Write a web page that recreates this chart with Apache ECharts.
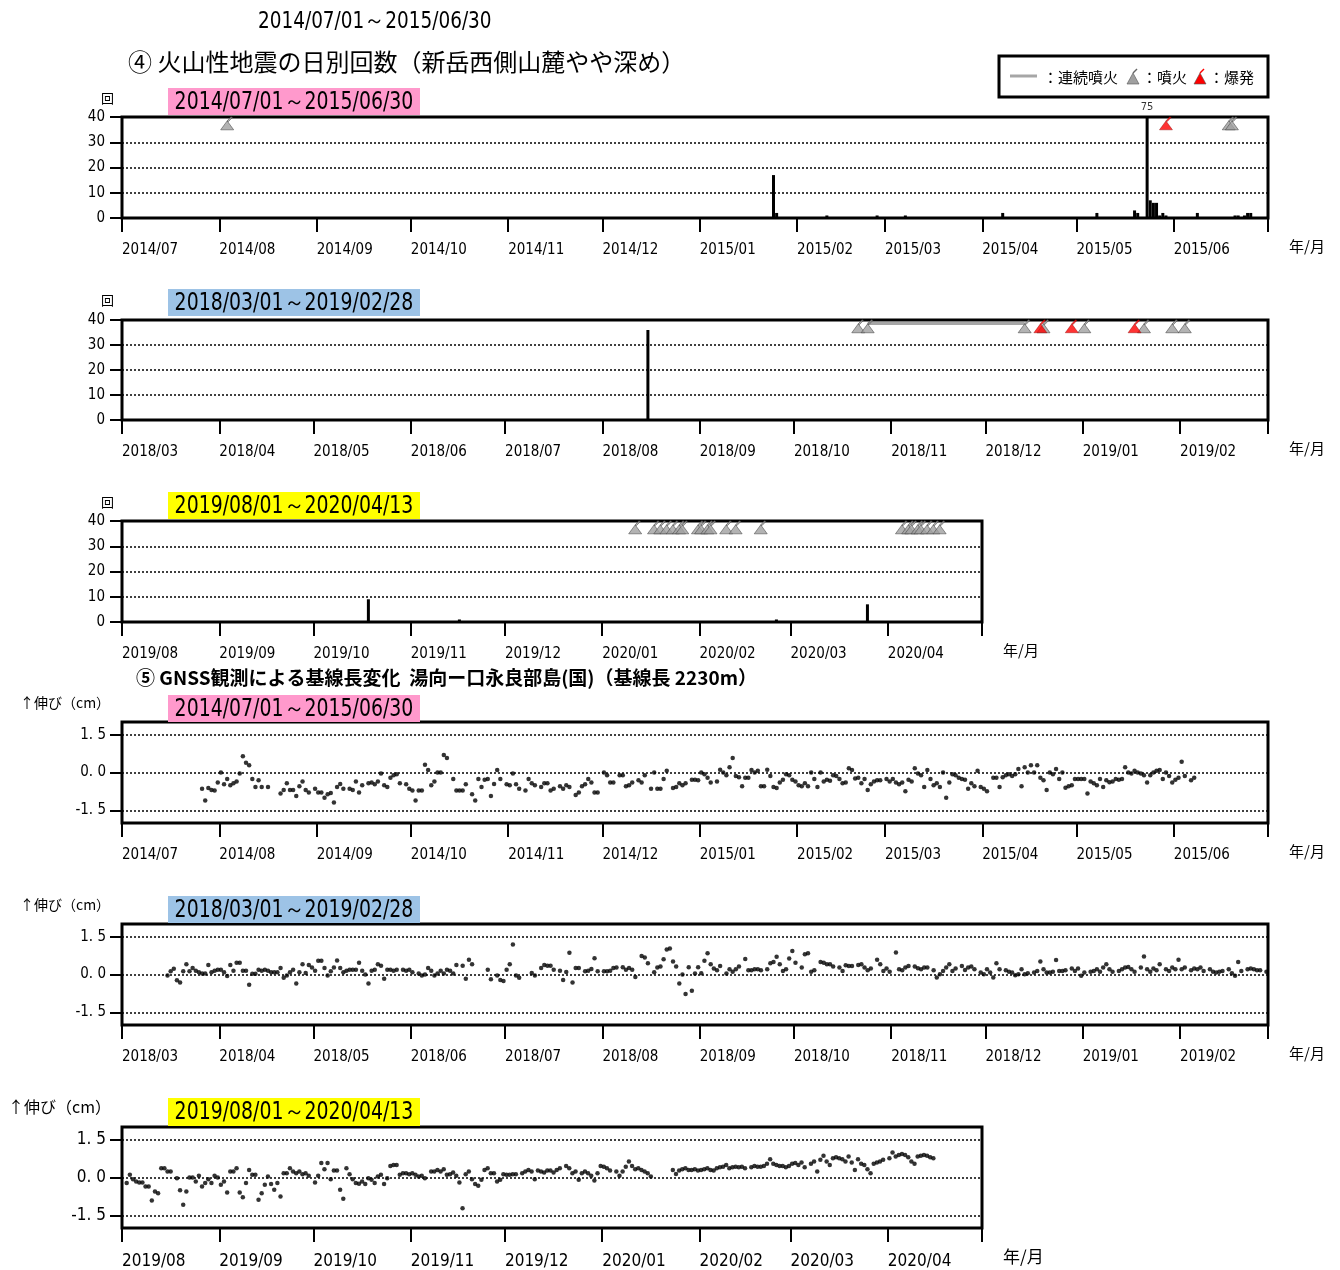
<!DOCTYPE html>
<html><head><meta charset="utf-8">
<script src="https://cdn.jsdelivr.net/npm/echarts@6/dist/echarts.min.js"></script>
<style>html,body{margin:0;padding:0;background:#fff}#c{width:1340px;height:1270px}</style>
</head><body><div id="c"></div>
<script>
// ---------------- DATA ----------------
const monthsA = ['2014/07','2014/08','2014/09','2014/10','2014/11','2014/12','2015/01','2015/02','2015/03','2015/04','2015/05','2015/06','2015/07'];
const monthsB = ['2018/03','2018/04','2018/05','2018/06','2018/07','2018/08','2018/09','2018/10','2018/11','2018/12','2019/01','2019/02','2019/03'];
const monthsC = ['2019/08','2019/09','2019/10','2019/11','2019/12','2020/01','2020/02','2020/03','2020/04','2020/05'];

// daily counts of volcanic earthquakes
const eqADates = ['2015-01-24','2015-01-25','2015-02-10','2015-02-26','2015-03-07','2015-04-07','2015-05-07','2015-05-19','2015-05-20','2015-05-23','2015-05-24','2015-05-25','2015-05-26','2015-05-27','2015-05-28','2015-05-29','2015-06-08','2015-06-20','2015-06-21','2015-06-23','2015-06-24','2015-06-25'];
const eqACounts = [17,2,1,1,1,2,2,3,2,75,7,6,6,1,2,1,2,1,1,1,2,2];
const eqBDates = ['2018-08-15'];
const eqBCounts = [36];
const eqCDates = ['2019-10-18','2019-11-16','2020-02-25','2020-03-25'];
const eqCCounts = [9,1,1,7];

// eruptions (gray), explosions (red), continuous eruption periods
const erA = ['2014-08-03','2015-06-18','2015-06-19'];
const exA = ['2015-05-29'];
const erB = ['2018-10-21','2018-10-24','2018-12-13','2018-12-19','2019-01-01','2019-01-20','2019-01-29','2019-02-02'];
const exB = ['2018-12-18','2018-12-28','2019-01-17'];
const contB = [['2018-10-24','2018-12-13']];
const erC = ['2020-01-11','2020-01-17','2020-01-19','2020-01-21','2020-01-23','2020-01-25','2020-01-26','2020-01-31','2020-02-01','2020-02-03','2020-02-04','2020-02-09','2020-02-12','2020-02-20','2020-04-05','2020-04-07','2020-04-08','2020-04-10','2020-04-11','2020-04-13','2020-04-15','2020-04-17'];

// GNSS baseline change: [day offset from period start, cm]
const gnssA = [[25,-0.64],[26,-1.11],[27,-0.61],[28,-0.69],[29,-0.71],[30,-0.40],[31,0.00],[32,-0.47],[33,-0.26],[34,-0.50],[35,-0.43],[36,-0.36],[37,-0.04],[38,0.64],[39,0.39],[40,0.29],[41,-0.26],[42,-0.57],[43,-0.31],[44,-0.57],[46,-0.57],[50,-0.83],[51,-0.69],[52,-0.43],[53,-0.69],[54,-0.69],[55,-0.93],[56,-0.54],[57,-0.36],[58,-0.69],[59,-0.79],[61,-0.64],[62,-0.79],[63,-0.79],[64,-1.00],[65,-0.86],[66,-0.81],[67,-1.19],[68,-0.57],[69,-0.46],[70,-0.64],[72,-0.64],[73,-0.69],[74,-0.36],[75,-0.79],[76,-0.50],[78,-0.43],[79,-0.40],[80,-0.47],[81,-0.36],[82,-0.04],[83,-0.50],[84,-0.57],[85,-0.21],[86,-0.11],[87,-0.07],[88,-0.43],[90,-0.47],[91,-0.64],[92,-0.71],[93,-1.11],[94,-0.71],[95,-0.71],[96,0.31],[97,0.10],[98,-0.50],[99,-0.36],[100,0.00],[101,0.00],[102,0.69],[103,0.57],[105,-0.26],[106,-0.71],[107,-0.71],[108,-0.71],[109,-0.47],[111,-0.86],[112,-1.11],[113,-0.26],[114,-0.57],[115,-0.29],[116,-0.26],[117,-0.93],[118,-0.46],[119,0.10],[120,-0.26],[122,-0.47],[123,-0.50],[124,-0.04],[125,-0.47],[126,-0.64],[128,-0.71],[129,-0.26],[130,-0.43],[131,-0.50],[133,-0.57],[134,-0.43],[135,-0.43],[136,-0.71],[137,-0.64],[139,-0.54],[140,-0.64],[141,-0.50],[142,-0.57],[144,-0.89],[145,-0.79],[146,-0.54],[147,-0.47],[148,-0.26],[149,-0.40],[150,-0.79],[151,-0.79],[153,0.00],[154,-0.11],[155,-0.40],[156,-0.40],[158,-0.11],[159,-0.11],[160,-0.54],[161,-0.50],[162,-0.40],[164,-0.31],[165,-0.40],[166,-0.11],[168,-0.64],[169,0.00],[170,-0.64],[171,-0.64],[172,-0.26],[173,0.07],[175,-0.61],[176,-0.57],[177,-0.43],[178,-0.50],[179,-0.43],[181,-0.29],[182,-0.29],[183,-0.31],[184,0.00],[185,-0.07],[186,-0.21],[187,-0.40],[189,-0.36],[190,0.11],[191,0.00],[192,-0.11],[193,0.21],[194,0.57],[195,-0.14],[196,-0.19],[197,-0.54],[198,-0.21],[199,-0.21],[200,0.10],[201,0.00],[202,0.07],[203,-0.54],[204,-0.54],[205,0.11],[206,-0.14],[207,-0.57],[208,-0.61],[209,-0.40],[210,-0.29],[211,-0.07],[212,-0.11],[213,-0.29],[214,-0.36],[215,-0.50],[216,-0.54],[217,-0.43],[218,-0.54],[219,0.00],[220,-0.26],[221,-0.57],[222,0.00],[223,-0.36],[224,-0.29],[225,-0.33],[226,-0.11],[227,-0.14],[228,-0.26],[229,-0.43],[230,-0.40],[231,0.17],[232,0.10],[233,-0.24],[234,-0.21],[235,-0.43],[236,-0.26],[237,-0.69],[238,-0.47],[239,-0.36],[240,-0.31],[241,-0.31],[243,-0.26],[244,-0.36],[245,-0.26],[246,-0.40],[247,-0.47],[248,-0.40],[249,-0.74],[250,-0.29],[251,-0.36],[252,0.17],[253,-0.04],[254,-0.11],[255,-0.57],[256,0.10],[257,-0.26],[258,-0.50],[259,-0.43],[260,-0.57],[261,0.00],[262,-1.00],[263,-0.40],[264,-0.07],[265,-0.11],[266,-0.21],[267,-0.26],[268,-0.29],[269,-0.64],[270,-0.43],[271,-0.54],[272,0.07],[273,-0.57],[274,-0.64],[275,-0.74],[277,-0.21],[278,-0.21],[279,-0.57],[280,-0.19],[281,-0.11],[282,-0.07],[283,-0.14],[284,-0.07],[285,0.14],[286,-0.54],[287,0.21],[288,0.00],[289,0.29],[290,0.00],[291,0.29],[292,-0.21],[293,-0.31],[294,-0.69],[295,0.00],[296,-0.07],[297,0.14],[298,-0.26],[299,0.00],[300,-0.60],[301,-0.54],[302,-0.50],[303,-0.26],[304,-0.26],[305,-0.26],[306,-0.26],[307,-0.83],[308,-0.36],[309,-0.43],[310,-0.50],[311,-0.26],[312,-0.57],[313,-0.31],[314,-0.39],[315,-0.36],[316,-0.26],[317,-0.29],[318,-0.26],[319,0.21],[320,0.00],[321,-0.04],[322,0.07],[323,0.00],[324,-0.04],[325,-0.11],[326,-0.40],[327,-0.11],[328,0.00],[329,0.07],[330,0.10],[331,-0.26],[332,0.00],[333,-0.14],[334,-0.40],[335,-0.29],[336,-0.21],[337,0.43],[338,-0.14],[340,-0.31],[341,-0.21]];

const gnssB = [[14,-0.04],[15,0.13],[16,0.23],[17,-0.23],[18,-0.32],[19,0.13],[20,0.41],[21,0.13],[22,0.26],[23,0.15],[24,0.09],[25,0.04],[26,0.04],[27,0.38],[28,0.09],[29,0.15],[30,0.19],[31,0.19],[32,0.09],[33,-0.06],[34,0.38],[35,0.15],[36,0.47],[37,0.47],[38,0.15],[39,0.15],[40,-0.41],[41,0.03],[42,0.03],[43,0.19],[44,0.15],[45,0.19],[46,0.15],[47,0.09],[48,0.09],[49,0.09],[50,0.26],[51,-0.13],[52,-0.04],[53,0.09],[54,0.19],[55,-0.36],[56,0.09],[57,0.41],[58,0.06],[59,0.38],[60,0.28],[61,0.15],[62,0.54],[63,0.54],[64,0.26],[65,-0.04],[66,0.13],[67,0.28],[68,0.55],[69,0.26],[70,0.09],[71,0.15],[72,0.19],[73,0.19],[74,0.19],[75,0.47],[76,0.15],[77,0.00],[78,-0.36],[79,0.15],[80,0.19],[81,0.41],[82,0.35],[83,-0.17],[84,0.19],[85,0.19],[86,0.15],[87,0.19],[89,0.19],[90,0.15],[91,0.19],[92,0.09],[94,0.04],[95,-0.04],[96,0.00],[97,0.26],[98,0.15],[99,-0.04],[100,0.04],[101,0.15],[102,0.04],[103,0.19],[104,0.15],[105,0.04],[106,0.38],[108,0.35],[109,-0.17],[110,0.58],[111,0.41],[116,0.19],[117,-0.19],[119,-0.04],[120,-0.22],[121,-0.26],[122,0.19],[123,0.41],[124,1.19],[125,-0.04],[126,-0.13],[130,0.06],[131,-0.04],[133,0.26],[134,0.38],[135,0.35],[136,0.35],[137,0.19],[139,0.15],[140,-0.22],[141,0.10],[142,0.86],[143,-0.32],[144,0.26],[145,0.26],[147,0.13],[148,0.15],[149,0.22],[150,0.64],[151,0.13],[153,0.13],[154,0.13],[155,0.15],[156,0.26],[157,0.28],[159,0.29],[160,0.19],[161,0.26],[162,0.19],[163,-0.10],[165,0.73],[166,0.67],[167,0.45],[169,0.09],[170,0.28],[171,0.32],[172,0.60],[173,0.99],[174,1.03],[175,0.51],[176,0.32],[177,-0.36],[178,0.00],[179,-0.77],[180,0.29],[181,-0.64],[182,0.04],[183,0.29],[184,0.05],[185,0.54],[186,0.84],[187,0.41],[188,0.24],[189,0.17],[190,0.34],[192,0.04],[193,0.21],[194,0.11],[195,0.21],[196,0.32],[198,0.61],[199,0.17],[200,0.17],[201,0.21],[202,0.21],[203,0.17],[205,0.21],[206,0.45],[207,0.50],[208,0.70],[209,0.41],[210,0.14],[211,0.21],[212,0.63],[213,0.93],[214,0.47],[216,0.28],[217,0.80],[218,0.84],[219,0.11],[220,0.17],[222,0.50],[223,0.47],[224,0.41],[225,0.41],[226,0.32],[228,0.28],[229,0.14],[230,0.37],[231,0.34],[232,0.34],[234,0.38],[235,0.41],[236,0.28],[237,0.17],[238,0.24],[240,0.58],[241,0.41],[242,0.14],[243,0.24],[244,0.11],[246,0.87],[247,0.21],[248,0.17],[249,0.28],[250,0.34],[252,0.32],[253,0.25],[254,0.21],[255,0.28],[256,0.28],[258,0.17],[259,-0.12],[260,0.01],[261,0.14],[262,0.28],[263,0.41],[264,0.14],[265,0.24],[267,0.34],[268,0.18],[269,0.28],[270,0.32],[271,0.21],[273,0.08],[274,0.01],[275,0.21],[276,0.08],[277,-0.12],[278,0.45],[279,0.21],[281,0.17],[282,0.11],[283,0.08],[284,-0.03],[285,0.01],[286,0.21],[287,0.01],[288,0.05],[290,0.08],[291,0.14],[292,0.51],[293,0.21],[294,0.08],[295,0.08],[296,0.11],[297,0.57],[298,0.14],[299,0.14],[300,0.17],[302,0.24],[303,0.14],[304,0.24],[305,-0.05],[306,0.08],[308,0.11],[309,0.14],[310,0.21],[311,0.11],[312,0.28],[313,0.41],[314,0.21],[315,0.11],[317,0.14],[318,0.21],[319,0.28],[320,0.30],[321,0.21],[322,0.11],[324,0.28],[325,0.71],[326,0.21],[327,0.11],[328,0.24],[329,0.17],[330,0.41],[332,0.21],[333,0.14],[334,0.28],[335,0.21],[336,0.58],[337,0.21],[338,0.28],[340,0.17],[341,0.24],[342,0.21],[343,0.28],[344,0.14],[346,0.21],[347,0.11],[348,0.08],[349,0.11],[350,0.14],[352,0.21],[353,0.05],[354,-0.05],[355,0.50],[356,0.14],[358,0.21],[359,0.24],[360,0.21],[361,0.17],[362,0.17],[364,0.11]];

const gnssC = [[1,-0.22],[2,0.11],[3,-0.07],[4,-0.16],[5,-0.20],[6,-0.20],[7,-0.36],[8,-0.36],[9,-0.91],[10,-0.55],[11,-0.62],[12,0.37],[13,0.37],[14,0.24],[15,0.24],[17,-0.03],[18,-0.50],[19,-1.08],[20,-0.55],[21,0.00],[22,0.00],[23,-0.16],[24,0.07],[25,-0.36],[26,-0.22],[27,-0.07],[28,-0.22],[29,0.07],[30,0.00],[31,-0.29],[32,-0.16],[33,-0.59],[34,0.24],[35,0.24],[36,0.37],[37,-0.59],[38,-0.78],[39,-0.22],[40,0.30],[41,0.11],[42,0.11],[43,-0.88],[44,-0.62],[45,-0.29],[46,0.04],[47,-0.26],[48,-0.49],[49,-0.22],[50,-0.75],[51,0.17],[52,0.17],[53,0.37],[54,0.24],[55,0.17],[56,0.24],[57,0.13],[58,0.17],[59,0.07],[61,-0.20],[62,0.07],[63,0.57],[64,0.33],[65,0.57],[66,-0.07],[67,0.28],[68,0.28],[69,-0.49],[70,-0.84],[71,0.37],[72,0.13],[73,-0.07],[74,-0.22],[75,-0.25],[76,-0.16],[77,-0.26],[78,-0.03],[79,-0.09],[80,-0.22],[81,0.04],[82,0.11],[83,-0.26],[84,-0.03],[85,0.46],[86,0.50],[87,0.50],[88,0.11],[89,0.17],[90,0.17],[91,0.13],[92,0.17],[93,0.11],[94,0.04],[95,0.07],[96,-0.03],[98,0.24],[99,0.24],[100,0.30],[101,0.24],[102,0.33],[103,0.11],[104,0.13],[105,0.20],[106,0.07],[107,-0.20],[108,-1.22],[109,0.13],[110,0.24],[111,-0.07],[112,-0.26],[113,-0.33],[114,-0.09],[115,0.30],[116,0.37],[117,0.17],[118,0.17],[119,-0.16],[120,-0.09],[121,0.13],[122,0.11],[123,0.11],[124,0.13],[125,0.13],[127,0.17],[128,0.24],[129,0.30],[130,0.24],[131,-0.07],[132,0.28],[133,0.24],[134,0.20],[135,0.28],[136,0.28],[137,0.20],[138,0.30],[139,0.37],[141,0.46],[142,0.37],[143,0.17],[144,0.24],[145,-0.09],[146,0.17],[147,0.24],[148,0.17],[149,0.07],[150,-0.12],[151,0.17],[152,0.46],[153,0.43],[154,0.37],[155,0.28],[157,0.24],[158,0.07],[159,0.24],[160,0.43],[161,0.63],[162,0.46],[163,0.33],[164,0.37],[165,0.30],[166,0.24],[167,0.17],[168,0.04],[175,0.30],[176,0.14],[177,0.28],[178,0.33],[179,0.37],[180,0.30],[181,0.30],[182,0.33],[183,0.28],[184,0.30],[185,0.33],[186,0.37],[187,0.30],[188,0.28],[189,0.37],[190,0.41],[191,0.43],[192,0.50],[193,0.37],[194,0.41],[195,0.43],[196,0.41],[197,0.43],[198,0.37],[200,0.41],[201,0.46],[202,0.43],[203,0.43],[204,0.46],[205,0.54],[206,0.72],[207,0.54],[208,0.50],[209,0.46],[210,0.46],[211,0.41],[212,0.46],[213,0.54],[214,0.57],[215,0.50],[216,0.59],[217,0.41],[219,0.54],[220,0.63],[221,0.24],[222,0.70],[223,0.86],[224,0.63],[225,0.50],[226,0.76],[227,0.80],[228,0.76],[229,0.72],[230,0.63],[231,0.83],[232,0.59],[233,0.30],[234,0.72],[235,0.54],[236,0.50],[237,0.33],[238,0.17],[239,0.54],[240,0.59],[241,0.63],[242,0.70],[244,0.76],[245,0.99],[246,0.83],[247,0.89],[248,0.93],[249,0.89],[250,0.80],[251,0.63],[252,0.54],[253,0.83],[254,0.86],[255,0.89],[256,0.86],[257,0.80],[258,0.76]];

const eqTicks = [0,10,20,30,40];
const gnssTicks = [-1.5,0,1.5];

// ---------------- BUILD ----------------
const FN = '"DejaVu Sans Condensed","DejaVu Sans",sans-serif';
const FJ = '"Noto Sans CJK JP","Noto Sans CJK SC",sans-serif';
const ymd = s => { const p = s.split('-').map(Number); return new Date(p[0], p[1]-1, p[2], 12).getTime(); };
const ym = s => { const p = s.split('/').map(Number); return new Date(p[0], p[1]-1, 1).getTime(); };
const dayOff = (start, n) => { const p = start.split('-').map(Number); return new Date(p[0], p[1]-1, p[2]+n, 12).getTime(); };

const MARK_Y = 37.5, LINE_Y = 38.6;
const ERUPT = 'path://M0,20L7,7L14,20Z M7,7L11,1L12.6,1.9L8.4,8Z';

const P = [
 {top:117,h:101,w:1146,months:monthsA,kind:'eq',dates:eqADates,counts:eqACounts,er:erA,ex:exA,cont:[]},
 {top:320,h:100,w:1146,months:monthsB,kind:'eq',dates:eqBDates,counts:eqBCounts,er:erB,ex:exB,cont:contB},
 {top:521,h:101,w:860,months:monthsC,kind:'eq',dates:eqCDates,counts:eqCCounts,er:erC,ex:[],cont:[]},
 {top:722,h:101,w:1146,months:monthsA,kind:'gnss',start:'2014-07-01',pts:gnssA},
 {top:924,h:101,w:1146,months:monthsB,kind:'gnss',start:'2018-03-01',pts:gnssB},
 {top:1127,h:101,w:860,months:monthsC,kind:'gnss',start:'2019-08-01',pts:gnssC,big:true}
];

const grid=[], xAxis=[], yAxis=[], series=[];
P.forEach((p,i)=>{
  grid.push({left:122, top:p.top, width:p.w, height:p.h, show:true, borderColor:'#000', borderWidth:3, backgroundColor:'rgba(0,0,0,0)'});
  const tickVals = p.months.map(ym);
  const labVals = p.months.slice(0,-1).map(ym);
  const map = {}; p.months.forEach(m=>{ map[ym(m)] = m; });
  xAxis.push({gridIndex:i, type:'value', position:'bottom', min:tickVals[0], max:tickVals[tickVals.length-1], scale:true,
    axisLine:{show:false, onZero:false}, splitLine:{show:false},
    axisTick:{show:true, customValues:tickVals, length:14, lineStyle:{color:'#000', width:2}},
    axisLabel:{show:true, customValues:labVals, formatter:v=>map[v]||'', align:'left', margin:p.big?25:25,
      color:'#000', fontSize:p.big?17:15, fontFamily:FN, hideOverlap:false}
  });
  if(p.kind==='eq'){
    yAxis.push({gridIndex:i, type:'value', min:0, max:40, interval:10,
      axisLine:{show:false, onZero:false},
      axisTick:{show:true, length:12, lineStyle:{color:'#000', width:2}},
      axisLabel:{color:'#000', fontSize:15, fontFamily:FN, margin:17},
      splitLine:{show:true, lineStyle:{type:[2,2], color:'#000', width:1.5}}
    });
    series.push({type:'bar', xAxisIndex:i, yAxisIndex:i, barWidth:3, itemStyle:{color:'#000'},
      data:p.dates.map((d,k)=>[ymd(d), p.counts[k]]), silent:true, z:3});
    const over = p.dates.map((d,k)=>[ymd(d), 40, p.counts[k]]).filter(r=>r[2]>40);
    if(over.length) series.push({type:'scatter', xAxisIndex:i, yAxisIndex:i, data:over, symbolSize:1,
      itemStyle:{color:'rgba(0,0,0,0)'}, label:{show:true, position:'top', distance:4, formatter:q=>String(q.value[2]),
      fontSize:11, fontFamily:FN, color:'#000'}, z:5});
    p.cont.forEach(c=>series.push({type:'line', xAxisIndex:i, yAxisIndex:i, symbol:'none',
      data:[[ymd(c[0]),LINE_Y],[ymd(c[1]),LINE_Y]], lineStyle:{color:'#a6a6a6', width:3}, z:4}));
    series.push({type:'scatter', xAxisIndex:i, yAxisIndex:i, symbol:ERUPT, symbolSize:[13,13],
      data:p.er.map(d=>[ymd(d), MARK_Y]), itemStyle:{color:'#a0a0a0', borderColor:'#444', borderWidth:0.7}, z:6});
    if(p.ex.length) series.push({type:'scatter', xAxisIndex:i, yAxisIndex:i, symbol:ERUPT, symbolSize:[13,13],
      data:p.ex.map(d=>[ymd(d), MARK_Y]), itemStyle:{color:'#ff0000', borderColor:'#800', borderWidth:0.5}, z:7});
  } else {
    yAxis.push({gridIndex:i, type:'value', min:-2, max:2,
      axisLine:{show:false, onZero:false},
      axisTick:{show:true, customValues:gnssTicks, length:12, lineStyle:{color:'#000', width:2}},
      axisLabel:{customValues:gnssTicks, formatter:v=>Number(v).toFixed(1).replace('.', '. '), color:'#000',
        fontSize:p.big?17:15, fontFamily:FN, margin:16},
      splitLine:{show:false}
    });
    series.push({type:'scatter', xAxisIndex:i, yAxisIndex:i, symbolSize:4.5, itemStyle:{color:'#000'},
      data:p.pts.map(r=>[dayOff(p.start, r[0]), r[1]]), silent:true, z:4,
      markLine:{silent:true, symbol:'none', label:{show:false}, animation:false,
        lineStyle:{type:[2,2], color:'#000', width:1.5},
        data:gnssTicks.map(t=>({yAxis:t}))}
    });
  }
});

// ---------------- TEXT / DECORATION ----------------
function txt(x,y,s,font,align,sy){return {type:'text', x:x, y:y, z:10, scaleY:sy||1, style:{text:s, font:font, fill:'#000', align:align||'left', verticalAlign:'middle'}};}
function tag(x,y,w,h,color,s){return {type:'group', z:10, children:[
  {type:'rect', z:10, shape:{x:x,y:y,width:w,height:h}, style:{fill:color}},
  {type:'text', z:11, x:x+w/2, y:y+h/2+1, scaleY:1.15, style:{text:s, font:'21px '+FN, fill:'#000', align:'center', verticalAlign:'middle'}}]};}
function tri(x,y,color){return [
  {type:'polygon', z:20, shape:{points:[[x-6,y+6],[x,y-5],[x+6,y+6]]}, style:{fill:color, stroke:'#555', lineWidth:0.6}},
  {type:'line', z:20, shape:{x1:x,y1:y-5,x2:x+4,y2:y-9}, style:{stroke:color==='#ff0000'?'#ff0000':'#666', lineWidth:1.4}}];}

const els = [
  txt(258,22,'2014/07/01～2015/06/30','20.5px '+FN,'left',1.15),
  txt(128,62,'④ 火山性地震の日別回数（新岳西側山麓やや深め）','24px '+FJ),
  {type:'rect', z:10, shape:{x:999,y:56,width:269,height:41}, style:{fill:'#fff', stroke:'#000', lineWidth:3}},
  {type:'line', z:11, shape:{x1:1010,y1:76,x2:1037,y2:76}, style:{stroke:'#a6a6a6', lineWidth:3}},
  txt(1043,77,'：連続噴火','15px '+FJ),
  ...tri(1133,78,'#a0a0a0'),
  txt(1142,77,'：噴火','15px '+FJ),
  ...tri(1200,78,'#ff0000'),
  txt(1209,77,'：爆発','15px '+FJ),
  tag(168,88,252,27,'#ff99cc','2014/07/01～2015/06/30'),
  tag(168,289,252,27,'#9dc3e6','2018/03/01～2019/02/28'),
  tag(168,492,252,27,'#ffff00','2019/08/01～2020/04/13'),
  tag(168,695,252,27,'#ff99cc','2014/07/01～2015/06/30'),
  tag(168,896,252,27,'#9dc3e6','2018/03/01～2019/02/28'),
  tag(168,1098,252,28,'#ffff00','2019/08/01～2020/04/13'),
  txt(101,98,'回','13px '+FJ),
  txt(101,300,'回','13px '+FJ),
  txt(101,502,'回','13px '+FJ),
  txt(1289,246,'年/月','15px '+FJ),
  txt(1289,448,'年/月','15px '+FJ),
  txt(1003,650,'年/月','15px '+FJ),
  txt(1289,851,'年/月','15px '+FJ),
  txt(1289,1053,'年/月','15px '+FJ),
  txt(1003,1257,'年/月','17px '+FJ),
  txt(136,678,'⑤ GNSS観測による基線長変化  湯向ー口永良部島(国)（基線長 2230m）','bold 19px '+FJ),
  txt(20,703,'↑伸び（cm）','14px '+FJ),
  txt(20,905,'↑伸び（cm）','14px '+FJ),
  txt(8,1107,'↑伸び（cm）','16px '+FJ)
];

const chart = echarts.init(document.getElementById('c'), null, {renderer:'canvas'});
chart.setOption({animation:false, backgroundColor:'#fff', grid, xAxis, yAxis, series, graphic:{elements:els}});
</script></body></html>
